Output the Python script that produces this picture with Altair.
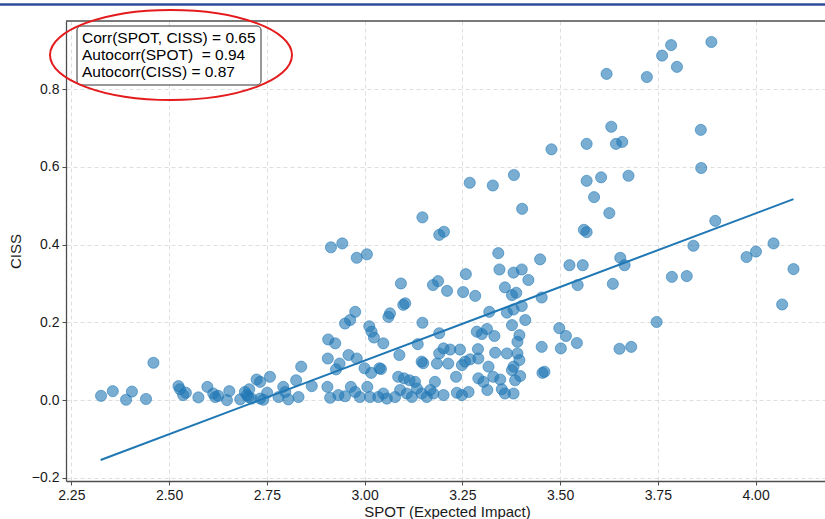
import altair as alt
import pandas as pd

# ---- data ----
spot = [2.326, 2.356, 2.390, 2.405, 2.441, 2.460, 2.524, 2.528, 2.536, 2.543,
        2.575, 2.598, 2.613, 2.618, 2.626, 2.654, 2.648, 2.682, 2.694, 2.699,
        2.705, 2.703, 2.711, 2.724, 2.733, 2.758, 2.733, 2.741, 2.751, 2.780,
        2.792, 2.797, 2.805, 2.825, 2.838, 2.831, 2.914, 2.943, 2.980, 3.006,
        3.093, 3.099, 3.104, 2.976, 2.963, 2.950, 3.065, 3.061, 3.148, 3.012,
        3.018, 3.024, 3.048, 2.907, 2.925, 3.136, 2.906, 2.936, 2.927, 2.959,
        2.980, 3.000, 3.017, 3.038, 3.042, 3.089, 3.146, 3.150, 2.865, 2.905,
        2.912, 2.933, 2.950, 2.965, 2.976, 2.988, 3.007, 3.014, 3.035, 3.048,
        3.057, 3.078, 3.086, 3.101, 3.115, 3.129, 3.091, 3.108, 3.121, 3.134,
        3.146, 3.159, 3.168, 3.342, 3.345, 3.381, 3.402, 3.419, 3.449, 3.524,
        3.558, 3.545, 3.453, 3.359, 3.377, 3.388, 3.402, 3.381, 3.364, 3.319,
        3.411, 3.377, 3.498, 3.515, 3.543, 3.453, 3.502, 3.460, 3.455, 3.396,
        3.391, 3.332, 3.313, 3.287, 3.300, 3.290, 3.244, 3.219, 3.202, 3.191,
        3.334, 3.364, 3.391, 3.396, 3.291, 3.270, 3.257, 3.249, 3.214, 3.185,
        3.317, 3.381, 3.377, 3.398, 3.234, 3.291, 3.304, 3.329, 3.347, 3.385,
        3.314, 3.351, 3.359, 3.381, 3.180, 3.176, 3.202, 3.236, 3.266, 3.249,
        3.175, 3.188, 3.211, 3.252, 3.283, 3.259, 3.191, 3.148, 3.191, 3.203,
        3.269, 3.328, 3.382, 3.403, 3.478, 3.568, 3.568, 3.605, 3.587, 3.561,
        3.568, 3.887, 3.784, 3.761, 3.799, 3.722, 3.619, 3.631, 3.643, 3.659,
        3.860, 3.675, 3.861, 3.626, 3.897, 3.841, 3.654, 3.665, 3.786, 3.824,
        3.977, 4.001, 4.046, 4.097, 4.068, 3.635, 3.747, 3.652, 3.682]
ciss = [0.011, 0.023, 0.001, 0.022, 0.003, 0.096, 0.036, 0.028, 0.013, 0.019,
        0.007, 0.034, 0.017, 0.008, 0.011, 0.023, 0.000, 0.002, 0.021, 0.013,
        0.028, 0.008, 0.004, 0.053, 0.047, 0.060, 0.004, 0.001, 0.019, 0.008,
        0.034, 0.021, 0.002, 0.051, 0.086, 0.008, 0.393, 0.403, 0.366, 0.375,
        0.300, 0.245, 0.249, 0.227, 0.206, 0.197, 0.223, 0.214, 0.199, 0.190,
        0.176, 0.161, 0.146, 0.156, 0.146, 0.144, 0.107, 0.094, 0.079, 0.116,
        0.107, 0.082, 0.070, 0.082, 0.080, 0.116, 0.099, 0.095, 0.036, 0.034,
        0.006, 0.013, 0.010, 0.034, 0.021, 0.008, 0.034, 0.008, 0.008, 0.017,
        0.004, 0.008, 0.060, 0.056, 0.051, 0.047, 0.026, 0.017, 0.008, 0.030,
        0.017, 0.008, 0.026, 0.378, 0.336, 0.328, 0.336, 0.309, 0.362, 0.347,
        0.347, 0.296, 0.264, 0.290, 0.270, 0.276, 0.242, 0.233, 0.225, 0.227,
        0.206, 0.193, 0.185, 0.165, 0.147, 0.137, 0.133, 0.073, 0.070, 0.167,
        0.150, 0.165, 0.183, 0.176, 0.170, 0.131, 0.130, 0.130, 0.133, 0.120,
        0.122, 0.120, 0.120, 0.103, 0.107, 0.105, 0.099, 0.090, 0.094, 0.094,
        0.086, 0.086, 0.077, 0.062, 0.060, 0.056, 0.047, 0.060, 0.053, 0.051,
        0.026, 0.028, 0.017, 0.017, 0.047, 0.017, 0.013, 0.019, 0.021, 0.013,
        0.296, 0.306, 0.281, 0.278, 0.268, 0.324, 0.172, 0.470, 0.425, 0.433,
        0.559, 0.552, 0.579, 0.492, 0.645, 0.659, 0.564, 0.573, 0.522, 0.438,
        0.432, 0.921, 0.913, 0.886, 0.857, 0.831, 0.839, 0.703, 0.659, 0.664,
        0.695, 0.577, 0.597, 0.481, 0.461, 0.397, 0.366, 0.347, 0.317, 0.319,
        0.368, 0.382, 0.403, 0.337, 0.246, 0.299, 0.201, 0.132, 0.137]

fit_spot = [2.325, 4.097]
fit_ciss = [-0.154, 0.517]

x_ticks = [2.25, 2.50, 2.75, 3.00, 3.25, 3.50, 3.75, 4.00]
y_ticks = [-0.2, 0.0, 0.2, 0.4, 0.6, 0.8]
x_domain = [2.2364, 4.1776]
y_domain = [-0.208, 0.975]

annot_lines = ["Corr(SPOT, CISS) = 0.65",
               "Autocorr(SPOT)\u00a0 = 0.94",
               "Autocorr(CISS) = 0.87"]

x_title = "SPOT (Expected Impact)"
y_title = "CISS"

# ---- chart ----
W, H = 759, 460
FONT = "Liberation Sans"
BLUE = "#1f77b4"

pts = pd.DataFrame({"spot": spot, "ciss": ciss})
fit = pd.DataFrame({"spot": fit_spot, "ciss": fit_ciss})
one = pd.DataFrame({"k": [0]})

xs = alt.Scale(domain=x_domain, nice=False, zero=False)
ys = alt.Scale(domain=y_domain, nice=False, zero=False)

x_axis = alt.Axis(values=x_ticks, format=".2f", title=x_title, titleX=381,
                  titlePadding=2)
y_axis = alt.Axis(values=y_ticks, format=".1f", title=y_title, titlePadding=8)

scatter = alt.Chart(pts).mark_circle(
    size=124, color=BLUE, fillOpacity=0.6, stroke=BLUE, strokeWidth=1,
    strokeOpacity=0.55
).encode(
    x=alt.X("spot:Q", scale=xs, axis=x_axis),
    y=alt.Y("ciss:Q", scale=ys, axis=y_axis),
)

line = alt.Chart(fit).mark_line(color=BLUE, strokeWidth=2).encode(
    x=alt.X("spot:Q", scale=xs),
    y=alt.Y("ciss:Q", scale=ys),
)

top_spine = alt.Chart(one).mark_rule(color="#4d4d4d", strokeWidth=1.3).encode(
    x=alt.value(0), x2=alt.value(W), y=alt.value(0)
)

top_band = alt.Chart(one).mark_rule(color="#2f4c9c", strokeWidth=2.5, clip=False).encode(
    x=alt.value(-66), x2=alt.value(W), y=alt.value(-16.5)
)

box = alt.Chart(one).mark_rect(
    fill="white", stroke="#333333", strokeWidth=1, cornerRadius=4
).encode(
    x=alt.value(11), x2=alt.value(195), y=alt.value(5), y2=alt.value(64)
)

annot = alt.Chart(one).mark_text(
    align="left", baseline="alphabetic", font=FONT, fontSize=15.5,
    lineHeight=17, color="#000000"
).encode(
    x=alt.value(16), y=alt.value(21.5), text=alt.value(annot_lines)
)

ellipse_path = ("M 1 0 C 1 0.2055 0.5523 0.372 0 0.372 "
                "C -0.5523 0.372 -1 0.2055 -1 0 "
                "C -1 -0.2055 -0.5523 -0.372 0 -0.372 "
                "C 0.5523 -0.372 1 -0.2055 1 0 Z")
ellipse = alt.Chart(one).mark_point(
    shape=ellipse_path, filled=False, stroke="#e41a1c", strokeWidth=2,
    opacity=1, size=242 * 242, clip=False
).encode(
    x=alt.value(105), y=alt.value(34)
)

chart = alt.layer(scatter, line, top_spine, box, annot, ellipse, top_band).properties(
    width=W, height=H,
    padding={"left": 66, "top": 21, "right": 0, "bottom": 38},
    autosize=alt.AutoSizeParams(type="none"),
).configure_view(
    stroke=None
).configure_axis(
    labelFont=FONT, titleFont=FONT, labelFontSize=14, titleFontSize=15,
    titleFontWeight="normal", labelColor="#1a1a1a", titleColor="#1a1a1a",
    domainColor="#4d4d4d", domainWidth=1.3, tickColor="#4d4d4d", tickSize=4,
    tickWidth=1, labelPadding=3,
    grid=True, gridColor="#d6d6d6", gridDash=[4, 3], gridWidth=0.8,
)

chart.save("out.html", embed_options={"renderer": "svg", "actions": False})
